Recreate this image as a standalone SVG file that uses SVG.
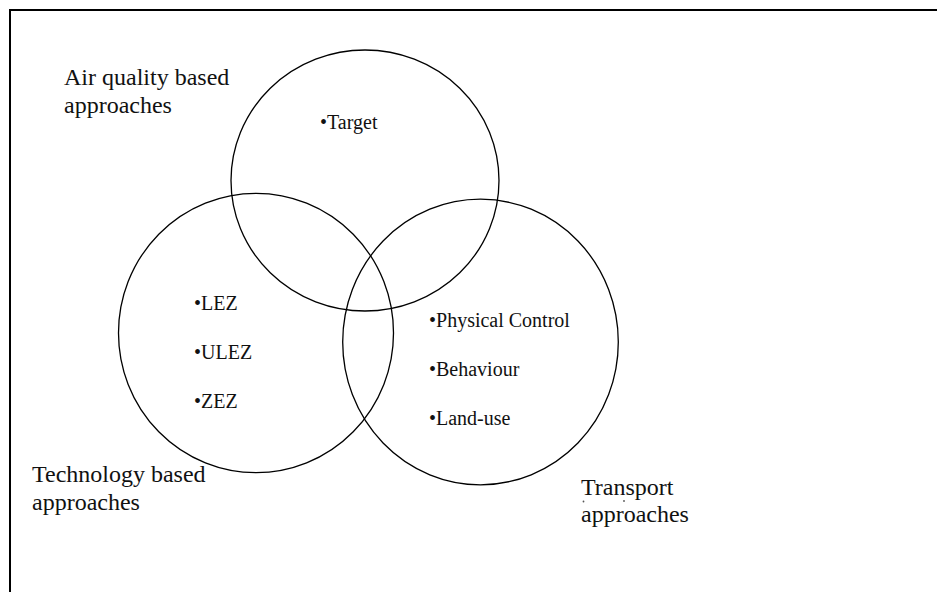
<svg xmlns="http://www.w3.org/2000/svg" width="937" height="592" viewBox="0 0 937 592">
<style>
.c{fill:none;stroke:#000;stroke-width:1.3}
.lbl{font-family:"Liberation Serif","Times New Roman",serif;font-size:24px;fill:#111}
.itm{font-family:"Liberation Serif","Times New Roman",serif;font-size:20px;fill:#111}
</style>
<rect x="0" y="0" width="937" height="592" fill="#fff"/>
<g id="frame"><path d="M10,600 V10 H950" fill="none" stroke="#000" stroke-width="2"/></g>
<g id="air-quality">
<ellipse class="c" cx="365" cy="180.5" rx="134" ry="130.5"/>
<text class="lbl" x="64" y="85">Air quality based</text>
<text class="lbl" x="64" y="112.5">approaches</text>
<text class="itm" x="320" y="129">•Target</text>
</g>
<g id="technology">
<ellipse class="c" cx="256" cy="333" rx="137.5" ry="139.7"/>
<text class="lbl" x="32" y="482">Technology based</text>
<text class="lbl" x="32" y="510">approaches</text>
<text class="itm" x="194" y="310">•LEZ</text>
<text class="itm" x="194" y="359">•ULEZ</text>
<text class="itm" x="194" y="408">•ZEZ</text>
</g>
<g id="transport">
<ellipse class="c" cx="480.5" cy="342" rx="137.8" ry="142.8"/>
<text class="lbl" x="581" y="494.5">Transport</text>
<text class="lbl" x="581" y="522">approaches</text>
<circle cx="583.5" cy="501.5" r="0.9" fill="#555"/>
<circle cx="624" cy="501" r="0.9" fill="#555"/>
<text class="itm" x="429" y="327">•Physical Control</text>
<text class="itm" x="429" y="376">•Behaviour</text>
<text class="itm" x="429" y="425">•Land-use</text>
</g>
<g id="connectors"></g>
</svg>
